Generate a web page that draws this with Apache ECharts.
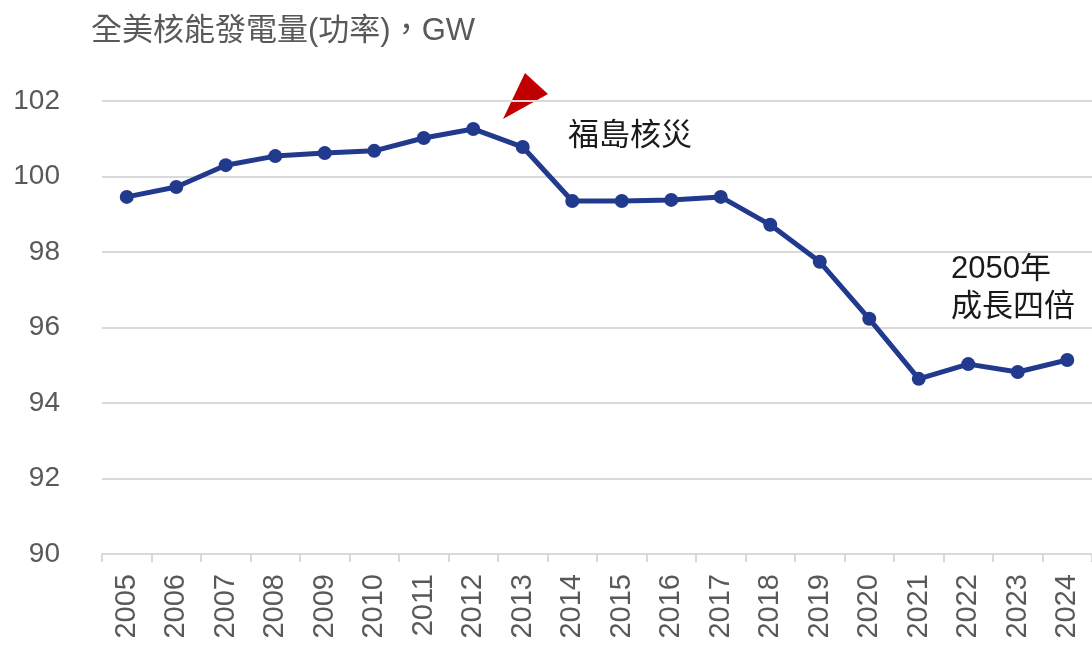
<!DOCTYPE html>
<html>
<head>
<meta charset="UTF-8">
<title>全美核能發電量</title>
<script src="https://cdn.jsdelivr.net/npm/echarts@6/dist/echarts.min.js"></script>
<style>
  html, body { margin: 0; padding: 0; background: #fff; }
  #main { width: 1092px; height: 645px; }
</style>
</head>
<body>
<div id="main"></div>
<script>
// 年份與功率 (GW)
var years = ['2005', '2006', '2007', '2008', '2009', '2010', '2011', '2012', '2013', '2014',
  '2015', '2016', '2017', '2018', '2019', '2020', '2021', '2022', '2023', '2024'];
var capacity = [99.46, 99.72, 100.30, 100.54, 100.62, 100.68, 101.02, 101.26, 100.78, 99.35,
  99.35, 99.38, 99.46, 98.72, 97.74, 96.23, 94.64, 95.03, 94.82, 95.14];

var font = '"Liberation Sans", Arial, "Noto Sans CJK TC", sans-serif';
var chart = echarts.init(document.getElementById('main'));

chart.setOption({
  animation: false,
  textStyle: { fontFamily: font },
  title: {
    text: '全美核能發電量(功率)，GW',
    left: 86,
    top: 11,
    textStyle: { fontSize: 31, fontWeight: 'normal', color: '#595959', fontFamily: font }
  },
  grid: { left: 102, right: -3, top: 101, bottom: 91 },
  xAxis: {
    type: 'category',
    data: years,
    boundaryGap: true,
    axisLine: { lineStyle: { color: '#d9d9d9', width: 2 } },
    axisTick: { show: true, length: 8, lineStyle: { color: '#d9d9d9', width: 2 } },
    axisLabel: { rotate: 90, margin: 20, fontSize: 29, color: '#595959', fontFamily: font, interval: 0 }
  },
  yAxis: {
    type: 'value',
    min: 90,
    max: 102,
    interval: 2,
    axisLine: { show: false },
    axisTick: { show: false },
    axisLabel: { margin: 42, fontSize: 28, color: '#595959', fontFamily: font },
    splitLine: { lineStyle: { color: '#d9d9d9', width: 2 } }
  },
  series: [{
    type: 'line',
    data: capacity,
    symbol: 'circle',
    symbolSize: 14,
    lineStyle: { color: '#223a8e', width: 5 },
    itemStyle: { color: '#223a8e' }
  }],
  graphic: [
    {
      type: 'polygon',
      shape: { points: [[503, 119], [525, 73], [548, 94]] },
      style: { fill: '#c00000' }
    },
    {
      type: 'text',
      left: 568,
      top: 118,
      style: { text: '福島核災', fontSize: 31, fill: '#1a1a1a', fontFamily: '"Noto Sans CJK TC", sans-serif' }
    },
    {
      type: 'text',
      left: 951,
      top: 250,
      style: {
        text: '2050年\n成長四倍',
        fontSize: 31,
        lineHeight: 38,
        fill: '#1a1a1a',
        fontFamily: '"Liberation Sans", "Noto Sans CJK TC", sans-serif'
      }
    }
  ]
});
</script>
</body>
</html>
